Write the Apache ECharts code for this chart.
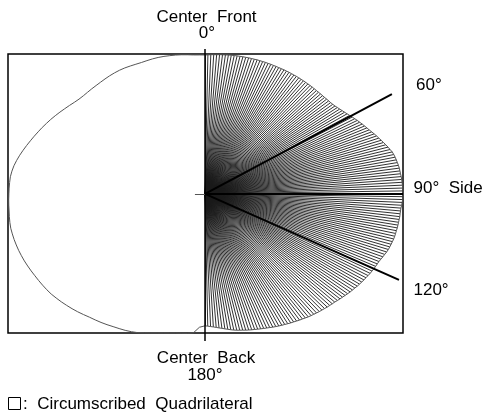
<!DOCTYPE html>
<html><head><meta charset="utf-8">
<script src="https://cdn.jsdelivr.net/npm/echarts@6.0.0/dist/echarts.min.js"></script>
<style>html,body{margin:0;padding:0;background:#fff}#c{width:486px;height:415px}</style>
</head><body><div id="c"></div>
<script>
// Radius (mm) of the cross-section outline, right half: index = angle in degrees (0 = center front, 90 = side, 180 = center back)
const rightRadius = [
 115.7,115.8,116.0,116.1,116.2,116.4,116.5,116.6,116.8,116.9,117.0,
 117.1,117.1,117.2,117.2,117.3,117.3,117.3,117.4,117.3,117.3,
 117.3,117.2,117.2,117.1,117.1,117.0,117.0,117.0,116.9,116.9,
 116.8,116.7,116.7,116.6,116.5,116.4,116.3,116.2,116.1,116.0,
 115.9,115.8,115.7,115.7,115.6,115.6,115.7,115.7,115.8,116.0,
 116.3,116.8,117.3,117.9,118.5,119.2,119.9,120.7,121.5,122.3,
 123.0,123.8,124.5,125.3,126.0,126.9,127.8,128.7,129.5,130.4,
 131.3,132.2,133.1,133.9,134.8,135.3,135.7,136.0,136.3,136.6,
 136.8,136.9,137.0,137.2,137.3,137.4,137.5,137.6,137.7,137.8,
 137.7,137.6,137.3,137.1,136.8,136.7,136.7,136.8,136.7,136.7,
 136.7,136.7,136.6,136.6,136.6,136.5,136.3,136.1,135.9,135.7,
 135.3,134.8,134.4,133.9,133.5,133.3,133.2,133.0,132.8,132.6,
 132.3,132.0,131.8,131.5,131.2,130.9,130.5,130.2,129.9,129.5,
 129.1,128.7,128.4,128.0,127.6,127.4,127.2,127.0,126.7,126.5,
 126.3,126.0,125.7,125.5,125.2,124.8,124.4,124.1,123.7,123.3,
 123.0,122.6,122.2,121.9,121.5,121.1,120.7,120.2,119.8,119.4,
 119.0,118.6,118.2,117.9,117.5,117.1,116.6,116.2,115.8,115.3,
 114.7,114.0,113.4,112.7,112.2,111.6,111.1,110.7,110.3,110.0
];
// Left half outline, angles 182..358 every 2 degrees
const leftStartDeg = 182, leftStepDeg = 2;
const leftRadius = [
 111.3,116.2,116.9,117.3,117.8,118.6,119.5,120.6,121.9,123.3,
 124.8,125.8,126.6,127.2,127.8,128.6,129.3,129.9,130.5,131.4,
 132.3,133.1,133.8,134.5,135.1,135.7,136.0,136.2,136.4,136.6,
 136.9,137.2,137.5,137.7,137.9,138.0,138.1,138.1,138.1,137.8,
 137.4,137.0,136.8,136.6,136.4,136.3,136.2,136.1,135.6,134.9,
 133.9,132.8,131.6,130.4,129.2,128.1,127.0,126.0,124.9,123.9,
 122.8,121.7,120.6,119.6,118.6,117.9,117.6,117.6,117.7,117.8,
 118.0,118.3,118.6,118.8,118.9,118.8,118.5,118.2,118.0,118.1,
 118.2,118.2,118.0,117.7,117.4,117.0,116.5,116.0,115.8
];
// Reference directions (as drawn) and their labels
const guideAngles = [57.4, 90, 118];
const guideLabels = ['60°', '90°  Side', '120°'];

const guideLengths = [154.3, 137.7, 152.8];
function toXY(deg, r){ const a = deg*Math.PI/180; return [r*Math.sin(a), r*Math.cos(a)]; }

const rightPts = rightRadius.map((r,i)=>toXY(i, r));
const leftPts = leftRadius.map((r,i)=>toXY(leftStartDeg + i*leftStepDeg, r));
const outline = rightPts.concat(leftPts, [rightPts[0]]);
const rays = rightPts.map(p=>({coords:[[0,0], p]}));
const guides = guideAngles.map((d,i)=>({coords:[[0,0], toXY(d, guideLengths[i])]}));

const FONT = '17px "Liberation Sans", Arial, "DejaVu Sans", sans-serif';
function txt(text, x, y, align){
  return {type:'text', x:x, y:y, silent:true, style:{text:text, font:FONT, fill:'#000', textAlign:align||'center', textVerticalAlign:'middle'}};
}
const labelPos = [[416,85],[413.5,188.5],[413.5,290]];

const chart = echarts.init(document.getElementById('c'), null, {renderer:'canvas'});
chart.setOption({
  animation:false,
  backgroundColor:'#fff',
  grid:{left:8, top:54, width:395, height:279, show:true, borderColor:'#000', borderWidth:1.5, backgroundColor:'transparent'},
  xAxis:{type:'value', min:-137, max:137.7, show:false},
  yAxis:{type:'value', min:-116, max:116.5, show:false},
  series:[
    {type:'lines', coordinateSystem:'cartesian2d', data:rays, silent:true, clip:false, z:2,
     lineStyle:{color:'#1a1a1a', width:0.9, opacity:1}},
    {type:'line', data:outline, symbol:'none', showSymbol:false, silent:true, clip:false, z:3,
     lineStyle:{color:'#555', width:1}},
    {type:'lines', coordinateSystem:'cartesian2d', data:guides, silent:true, clip:false, z:4,
     lineStyle:{color:'#000', width:2, opacity:1}},
    {type:'lines', coordinateSystem:'cartesian2d', data:[{coords:[[0,120.7],[0,-122.7]]}], silent:true, clip:false, z:5,
     lineStyle:{color:'#000', width:1.5, opacity:1}},
    {type:'lines', coordinateSystem:'cartesian2d', data:[{coords:[[-7,0],[0,0]]}], silent:true, clip:false, z:5,
     lineStyle:{color:'#555', width:1, opacity:1}}
  ],
  graphic:[
    txt('Center  Front', 206.5, 17),
    txt('0°', 207, 33.5),
    txt('Center  Back', 206, 358),
    txt('180°', 205, 375),
    {type:'rect', silent:true, shape:{x:8.5, y:397.5, width:12, height:12}, style:{fill:'none', stroke:'#000', lineWidth:1}},
    txt(':  Circumscribed  Quadrilateral', 23, 404, 'left'),
    txt(guideLabels[0], labelPos[0][0], labelPos[0][1], 'left'),
    txt(guideLabels[1], labelPos[1][0], labelPos[1][1], 'left'),
    txt(guideLabels[2], labelPos[2][0], labelPos[2][1], 'left')
  ]
});
</script></body></html>
